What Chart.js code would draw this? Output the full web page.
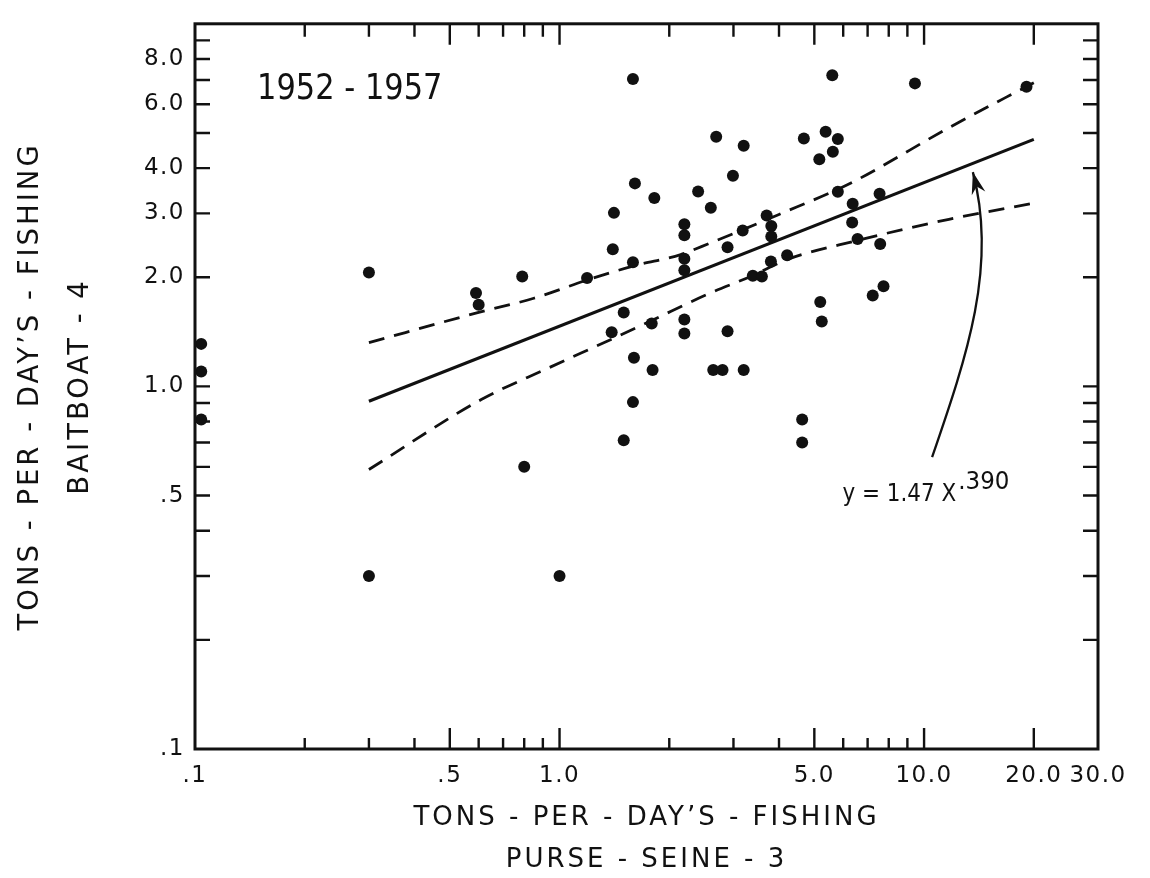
<!DOCTYPE html>
<html>
<head>
<meta charset="utf-8">
<script src="https://cdn.jsdelivr.net/npm/chart.js@4.4.1/dist/chart.umd.min.js"></script>
<style>
html,body{margin:0;padding:0;background:#fff;}
#wrap{width:1150px;height:878px;position:relative;}
</style>
</head>
<body>
<div id="wrap"><canvas id="c" width="1150" height="878"></canvas></div>
<script>
// ---------- data ----------
const pointsX = [0.104,0.104,0.104,0.3,0.3,0.59,0.60,0.79,0.80,1.0,
  1.19,1.40,1.41,1.39,1.50,1.50,1.59,1.61,1.59,1.60,
  1.59,1.82,1.79,1.80,2.20,2.20,2.20,2.20,2.20,2.20,
  2.40,2.60,2.69,3.20,2.99,3.18,2.89,2.89,2.64,2.80,
  3.20,3.70,3.81,3.81,3.80,3.39,3.59,4.21,4.68,5.19,
  5.24,4.63,4.63,5.37,5.80,5.62,5.16,5.60,5.80,6.37,
  6.35,6.57,7.55,7.58,7.74,7.23,9.44,19.1];
const pointsY = [1.31,1.10,0.81,2.06,0.30,1.81,1.68,2.01,0.60,0.30,
  1.99,2.39,3.01,1.41,1.60,0.71,7.04,3.63,2.20,1.20,
  0.905,3.31,1.49,1.11,2.80,2.61,2.25,2.09,1.53,1.40,
  3.45,3.11,4.88,4.61,3.81,2.69,2.42,1.42,1.11,1.11,
  1.11,2.96,2.77,2.59,2.21,2.02,2.01,2.30,4.83,1.71,
  1.51,0.81,0.70,5.04,4.81,4.44,4.23,7.21,3.44,3.19,
  2.83,2.55,3.40,2.47,1.89,1.78,6.85,6.70];

const fitX = [0.3, 20];
const fitY = [0.91, 4.80];

const upperX = [0.3, 0.6, 0.85, 1.2, 1.6, 2.15, 2.45, 4.0, 6.3, 11.7, 20];
const upperY = [1.32, 1.60, 1.75, 1.97, 2.15, 2.31, 2.43, 2.98, 3.64, 5.17, 6.88];

const lowerX = [0.3, 0.61, 0.925, 1.39, 1.79, 2.53, 3.38, 4.22, 6.5, 11.7, 20];
const lowerY = [0.59, 0.92, 1.12, 1.35, 1.52, 1.79, 2.02, 2.24, 2.52, 2.89, 3.20];

const xTickValues = [0.1, 0.5, 1, 5, 10, 20, 30];
const xTickLabels = ['.1', '.5', '1.0', '5.0', '10.0', '20.0', '30.0'];
const yTickValues = [0.1, 0.5, 1, 2, 3, 4, 6, 8];
const yTickLabels = ['.1', '.5', '1.0', '2.0', '3.0', '4.0', '6.0', '8.0'];

const xMinorTicks = [0.2, 0.3, 0.4, 0.6, 0.7, 0.8, 0.9, 2, 3, 4, 6, 7, 8, 9];
const xMajorTicks = [0.5, 1, 5, 10, 20];
const yMarkTicks = [0.2, 0.3, 0.4, 0.5, 0.6, 0.7, 0.8, 0.9, 1, 2, 3, 4, 5, 6, 7, 8, 9];

const xTitle = ['TONS - PER - DAY\u2019S - FISHING', 'PURSE - SEINE - 3'];
const yTitle = ['TONS - PER - DAY\u2019S - FISHING', 'BAITBOAT - 4'];
const periodText = '1952 - 1957';
const equationText = 'y = 1.47 X';
const exponentText = '.390';

// annotation anchors (data space)
const periodAnchor = [0.148, 6.22];
const equationAnchor = [5.97, 0.482];
const arrowCurve = [[10.52, 0.638], [13.11, 1.213], [15.93, 2.154], [13.61, 3.90]];

// ---------- rendering ----------
const INK = '#111111';
const FONT = "'DejaVu Sans', 'Liberation Sans', sans-serif";

const toPts = (xs, ys) => xs.map((x, i) => ({x: x, y: ys[i]}));

function squeezedText(ctx, text, x, y, sx) {
  ctx.save();
  ctx.translate(x, y);
  ctx.scale(sx, 1);
  ctx.fillText(text, 0, 0);
  const w = ctx.measureText(text).width * sx;
  ctx.restore();
  return w;
}

const framePlugin = {
  id: 'frame',
  beforeDraw(chart) {
    chart.ctx.letterSpacing = '3px';      // axis titles
  },
  afterDatasetsDraw(chart) {
    chart.ctx.letterSpacing = '1.5px';    // tick labels (drawn after datasets, z=1)
  },
  afterDraw(chart) {
    const ctx = chart.ctx;
    const a = chart.chartArea;
    const xs = chart.scales.x, ys = chart.scales.y;
    ctx.save();
    ctx.letterSpacing = '0px';
    ctx.strokeStyle = INK;
    ctx.lineWidth = 2.4;
    ctx.beginPath();
    yMarkTicks.forEach(v => {
      const py = ys.getPixelForValue(v);
      ctx.moveTo(a.left, py); ctx.lineTo(a.left + 15, py);
      ctx.moveTo(a.right, py); ctx.lineTo(a.right - 15, py);
    });
    xMinorTicks.forEach(v => {
      const px = xs.getPixelForValue(v);
      ctx.moveTo(px, a.bottom); ctx.lineTo(px, a.bottom - 11);
      ctx.moveTo(px, a.top); ctx.lineTo(px, a.top + 13);
    });
    xMajorTicks.forEach(v => {
      const px = xs.getPixelForValue(v);
      ctx.moveTo(px, a.bottom); ctx.lineTo(px, a.bottom - 21);
      ctx.moveTo(px, a.top); ctx.lineTo(px, a.top + 21);
    });
    ctx.stroke();
    ctx.lineWidth = 3;
    ctx.strokeRect(a.left, a.top, a.right - a.left, a.bottom - a.top);

    // period label
    ctx.fillStyle = INK;
    ctx.textBaseline = 'alphabetic';
    ctx.textAlign = 'left';
    ctx.letterSpacing = '0px';
    ctx.font = "35px " + FONT;
    squeezedText(ctx, periodText, xs.getPixelForValue(periodAnchor[0]), ys.getPixelForValue(periodAnchor[1]), 0.87);

    // equation
    ctx.font = "25px " + FONT;
    const ex = xs.getPixelForValue(equationAnchor[0]);
    const ey = ys.getPixelForValue(equationAnchor[1]);
    const w = squeezedText(ctx, equationText, ex, ey, 0.86);
    squeezedText(ctx, exponentText, ex + w + 2, ey - 12, 0.92);

    // arrow
    const p = arrowCurve.map(q => [xs.getPixelForValue(q[0]), ys.getPixelForValue(q[1])]);
    ctx.lineWidth = 2.3;
    ctx.beginPath();
    ctx.moveTo(p[0][0], p[0][1]);
    ctx.bezierCurveTo(p[1][0], p[1][1], p[2][0], p[2][1], p[3][0], p[3][1]);
    ctx.stroke();
    let dx = p[3][0] - p[2][0], dy = p[3][1] - p[2][1];
    const L = Math.hypot(dx, dy); dx /= L; dy /= L;
    const nx = -dy, ny = dx;
    const tx = p[3][0], ty = p[3][1];
    ctx.beginPath();
    ctx.moveTo(tx, ty);
    ctx.lineTo(tx - 22 * dx + 7 * nx, ty - 22 * dy + 7 * ny);
    ctx.lineTo(tx - 15 * dx, ty - 15 * dy);
    ctx.lineTo(tx - 22 * dx - 7 * nx, ty - 22 * dy - 7 * ny);
    ctx.closePath();
    ctx.fill();
    ctx.restore();
  }
};

new Chart(document.getElementById('c'), {
  type: 'scatter',
  data: {
    datasets: [
      {
        label: 'observations',
        data: toPts(pointsX, pointsY),
        pointRadius: 6,
        pointHoverRadius: 6,
        pointBackgroundColor: INK,
        pointBorderWidth: 0,
        showLine: false,
        clip: false
      },
      {
        label: 'fit',
        data: toPts(fitX, fitY),
        showLine: true,
        borderColor: INK,
        borderWidth: 3.2,
        pointRadius: 0
      },
      {
        label: 'upper',
        data: toPts(upperX, upperY),
        showLine: true,
        borderColor: INK,
        borderWidth: 2.8,
        borderDash: [16, 10],
        cubicInterpolationMode: 'monotone',
        pointRadius: 0
      },
      {
        label: 'lower',
        data: toPts(lowerX, lowerY),
        showLine: true,
        borderColor: INK,
        borderWidth: 2.8,
        borderDash: [16, 10],
        cubicInterpolationMode: 'monotone',
        pointRadius: 0
      }
    ]
  },
  options: {
    responsive: false,
    animation: false,
    devicePixelRatio: 1,
    layout: {padding: {left: 0, right: 52, top: 11, bottom: 0}},
    plugins: {legend: {display: false}, tooltip: {enabled: false}},
    scales: {
      x: {
        type: 'logarithmic',
        position: 'bottom',
        min: 0.1,
        max: 30,
        grid: {display: false, drawTicks: false},
        border: {display: false},
        afterBuildTicks: s => { s.ticks = xTickValues.map(v => ({value: v})); },
        afterFit: s => { s.height = 129; },
        ticks: {
          z: 1,
          autoSkip: false, maxRotation: 0, minRotation: 0, padding: 13,
          color: INK, font: {family: FONT, size: 23},
          callback: (v, i) => xTickLabels[i]
        },
        title: {
          display: true, text: xTitle, color: INK,
          font: {family: FONT, size: 26, lineHeight: 1.62},
          padding: {top: 0, bottom: -3}
        }
      },
      y: {
        type: 'logarithmic',
        position: 'left',
        min: 0.1,
        max: 10,
        grid: {display: false, drawTicks: false},
        border: {display: false},
        afterBuildTicks: s => { s.ticks = yTickValues.map(v => ({value: v})); },
        afterFit: s => { s.width = 195; },
        ticks: {
          z: 1,
          autoSkip: false, padding: 10,
          color: INK, font: {family: FONT, size: 23},
          callback: (v, i) => yTickLabels[i]
        },
        title: {
          display: true, text: yTitle, color: INK,
          font: {family: FONT, size: 27.5, lineHeight: 1.82},
          padding: {top: 6, bottom: 0}
        }
      }
    }
  },
  plugins: [framePlugin]
});
</script>
</body>
</html>
